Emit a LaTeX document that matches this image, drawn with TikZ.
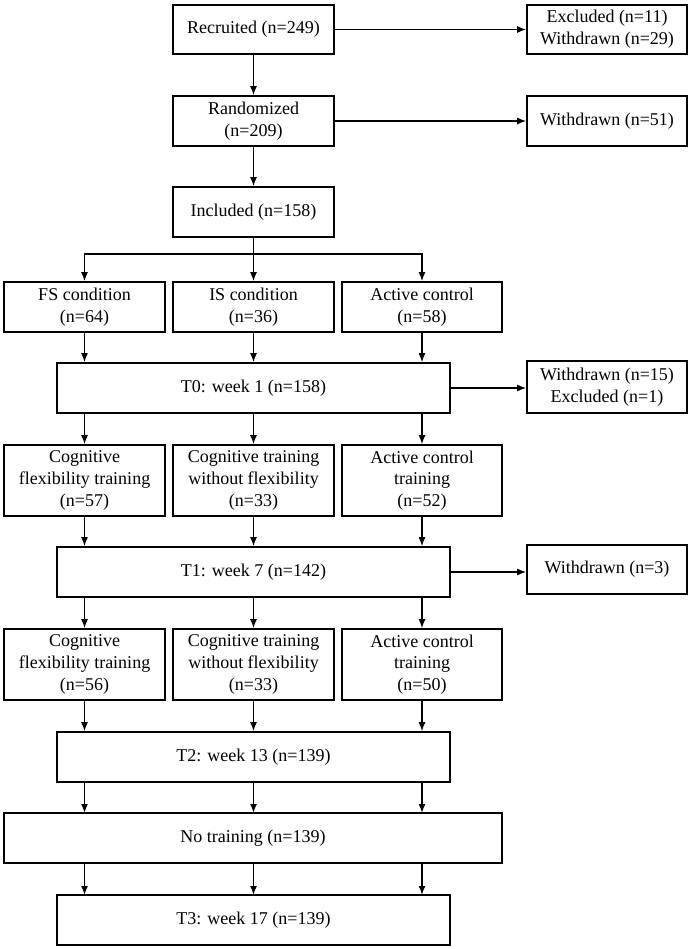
\documentclass[tikz,border=0pt]{standalone}
\usepackage{fontspec}
\setmainfont{Liberation Serif}
\usetikzlibrary{arrows.meta}
\begin{document}
\begin{tikzpicture}[x=1pt,y=-1pt,
  box/.style={draw, line width=1.6pt, align=center, inner sep=0pt,
    minimum width=161pt, minimum height=50pt,
    font=\fontsize{18}{21.7}\selectfont},
  wide/.style={box, minimum width=393pt},
  arr/.style={line width=1.5pt, -{Latex[length=9pt,width=7pt]}},
  ln/.style={line width=1.5pt}]
\useasboundingbox (0,0) rectangle (693,949);
% top column
\node[box, minimum height=49pt] (rec) at (253.5,29.5) {Recruited (n=249)};
\node[box, minimum width=160pt, minimum height=49pt] (exc) at (607,29.5) {Excluded (n=11)\\Withdrawn (n=29)};
\node[box] (ran) at (253.5,121) {Randomized\\(n=209)};
\node[box, minimum width=160pt] (wd51) at (607,121) {Withdrawn (n=51)};
\node[box] (inc) at (253.5,212) {Included (n=158)};
% groups
\node[box] (fs) at (84.5,307) {FS condition\\(n=64)};
\node[box] (is) at (253.5,307) {IS condition\\(n=36)};
\node[box, minimum width=160pt] (ac) at (422,307) {Active control\\(n=58)};
\node[wide] (t0) at (253.5,388) {T0: week 1 (n=158)};
\node[box, minimum width=160pt, minimum height=52pt] (wd15) at (607,387) {Withdrawn (n=15)\\Excluded (n=1)};
% training 1
\node[box, minimum height=71pt] (c1a) at (84.5,480.5) {Cognitive\\flexibility training\\(n=57)};
\node[box, minimum height=71pt] (c2a) at (253.5,480.5) {Cognitive training\\without flexibility\\(n=33)};
\node[box, minimum width=160pt, minimum height=71pt] (c3a) at (422,480.5) {Active control\\training\\(n=52)};
\node[wide] (t1) at (253.5,572) {T1: week 7 (n=142)};
\node[box, minimum width=160pt, minimum height=49pt] (wd3) at (607,569.5) {Withdrawn (n=3)};
% training 2
\node[box, minimum height=71pt] (c1b) at (84.5,664.5) {Cognitive\\flexibility training\\(n=56)};
\node[box, minimum height=71pt] (c2b) at (253.5,664.5) {Cognitive training\\without flexibility\\(n=33)};
\node[box, minimum width=160pt, minimum height=71pt] (c3b) at (422,664.5) {Active control\\training\\(n=50)};
\node[wide] (t2) at (253.5,757) {T2: week 13 (n=139)};
\node[box, minimum width=498pt] (nt) at (253,838) {No training (n=139)};
\node[wide] (t3) at (253.5,920) {T3: week 17 (n=139)};
% side arrows
\draw[arr] (rec.east) -- (rec.east -| exc.west);
\draw[arr] (ran.east) -- (ran.east -| wd51.west);
\draw[arr] (t0.east) -- (t0.east -| wd15.west);
\draw[arr] (t1.east) -- (t1.east -| wd3.west);
% main column
\draw[arr] (rec.south) -- (ran.north);
\draw[arr] (ran.south) -- (inc.north);
\coordinate (br) at (253.5,254);
\draw[ln] (inc.south) -- (br);
\draw[arr] (br) -- (is.north);
\draw[arr] (br) -| (fs.north);
\draw[arr] (br) -| (ac.north);
% column arrows
\foreach \a/\b in {fs/t0, is/t0, ac/t0, c1a/t1, c2a/t1, c3a/t1, c1b/t2, c2b/t2, c3b/t2}{
  \draw[arr] (\a.south) -- (\a.south |- \b.north);
}
\foreach \a/\b in {t0/c1a, t0/c2a, t0/c3a, t1/c1b, t1/c2b, t1/c3b}{
  \draw[arr] (\b.north |- \a.south) -- (\b.north);
}
\foreach \x in {84.5,253.5,422}{
  \draw[arr] (\x,782) -- (\x,813);
  \draw[arr] (\x,863) -- (\x,895);
}
\end{tikzpicture}
\end{document}
